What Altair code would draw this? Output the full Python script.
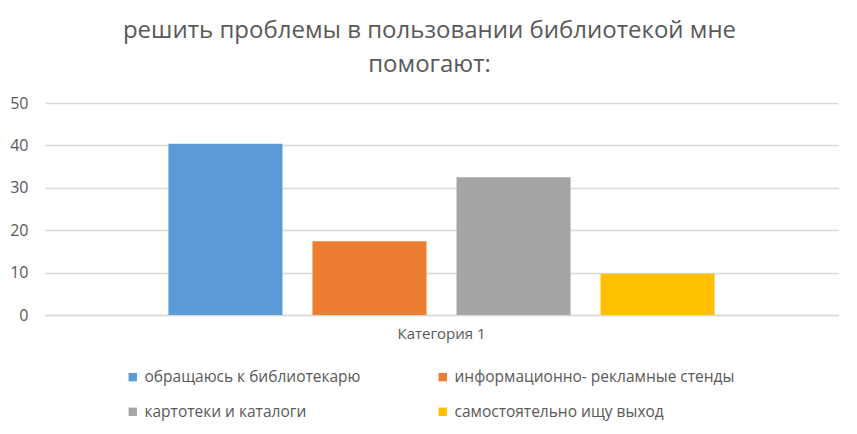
import altair as alt
import pandas as pd

categories = ["Категория 1"]
series = [
    "обращаюсь к библиотекарю",
    "информационно- рекламные стенды",
    "картотеки и каталоги",
    "самостоятельно ищу выход",
]
values = [40.4, 17.4, 32.5, 9.7]
colors = ["#5B9BD5", "#ED7D31", "#A5A5A5", "#FFC000"]
y_ticks = [0, 10, 20, 30, 40, 50]
title_lines = ["решить проблемы в пользовании библиотекой мне", "помогают:"]

# legend is filled column by column, so list entries in that order to read row by row
legend_order = [series[0], series[2], series[1], series[3]]
legend_colors = [colors[0], colors[2], colors[1], colors[3]]

df = pd.DataFrame({
    "category": categories * len(series),
    "series": series,
    "value": values,
})

FONT = "Open Sans"
TXT = "#595959"

chart = alt.Chart(df).mark_bar().encode(
    x=alt.X("category:N", title=None,
            scale=alt.Scale(paddingInner=0, paddingOuter=0.226),
            axis=alt.Axis(labelAngle=0, ticks=False, grid=False, domain=True,
                          domainColor="#d9d9d9", domainWidth=1.5, labelFontSize=15,
                          labelColor=TXT, labelFont=FONT, labelPadding=11)),
    xOffset=alt.XOffset("series:N", sort=series,
                        scale=alt.Scale(paddingInner=0.2083, paddingOuter=0)),
    y=alt.Y("value:Q", title=None,
            scale=alt.Scale(domain=[0, 50]),
            axis=alt.Axis(values=y_ticks, ticks=False, domain=False, gridColor="#d9d9d9",
                          gridWidth=1.5, labelFontSize=16, labelColor=TXT, labelFont=FONT,
                          labelPadding=17)),
    color=alt.Color("series:N",
                    scale=alt.Scale(domain=legend_order, range=legend_colors),
                    legend=alt.Legend(title=None, orient="none", legendX=80, legendY=266,
                                      columns=2, symbolType="square", symbolSize=70,
                                      symbolStrokeWidth=0, labelFontSize=15.5, labelColor=TXT,
                                      labelFont=FONT, columnPadding=74, rowPadding=18,
                                      labelOffset=4, labelLimit=400)),
).properties(
    width=793,
    height=212,
    title=alt.TitleParams(text=title_lines, fontSize=24, font=FONT, color=TXT,
                          fontWeight="normal", anchor="middle", dx=-12, offset=18,
                          lineHeight=34),
    autosize=alt.AutoSizeParams(type="none"),
    padding={"left": 45, "top": 103, "right": 19, "bottom": 119},
    background="white",
).configure_view(strokeWidth=0, stroke="transparent")

chart.save("out.html", embed_options={"renderer": "svg", "actions": False})
